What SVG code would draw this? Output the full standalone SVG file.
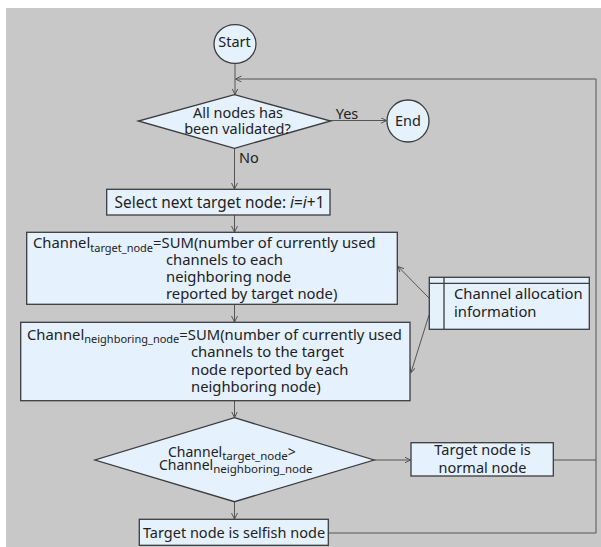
<svg xmlns="http://www.w3.org/2000/svg" width="601" height="547" viewBox="0 0 601 547">
<defs>
<marker id="arr" markerWidth="8" markerHeight="8" refX="6" refY="3" orient="auto" markerUnits="userSpaceOnUse">
<path d="M0,0 L6,3 L0,6" fill="none" stroke="#555" stroke-width="1"/>
</marker>
<style>
.node{fill:#e5f1fd;stroke:#3c3c3c;stroke-width:1.3}
.t{font-family:"Noto Sans","Open Sans",sans-serif;font-size:14.5px;fill:#222}
.b{font-size:14.8px}
.m{text-anchor:middle}
.sub{font-size:11px}
.c{fill:none;stroke:#555;stroke-width:1}
</style>
</defs>
<rect x="6" y="8" width="595" height="539" fill="#c8c8c8"/>
<g id="connectors">
<path class="c" d="M235,63.5 V94.5" marker-end="url(#arr)"/>
<path class="c" d="M328.5,533 H596 V79 H235.5" marker-end="url(#arr)"/>
<path class="c" d="M553.5,460 H596"/>
<path class="c" d="M330.5,120.5 H386.5" marker-end="url(#arr)"/>
<path class="c" d="M234.5,148.5 V189" marker-end="url(#arr)"/>
<path class="c" d="M234.5,215 V232" marker-end="url(#arr)"/>
<path class="c" d="M234.5,304.5 V322" marker-end="url(#arr)"/>
<path class="c" d="M234.5,400.5 V417.5" marker-end="url(#arr)"/>
<path class="c" d="M234.5,501.5 V519" marker-end="url(#arr)"/>
<path class="c" d="M374,460 H410.5" marker-end="url(#arr)"/>
<path class="c" d="M429,298 L398,266.5" marker-end="url(#arr)"/>
<path class="c" d="M429,315 L411,372.5" marker-end="url(#arr)"/>
</g>
<g id="start">
<ellipse class="node" cx="235" cy="44" rx="21" ry="19.3"/>
<text class="t m" x="234.5" y="46.5">Start</text>
</g>
<g id="decision1">
<polygon class="node" points="234.5,94.7 330.7,121 234.5,148.3 138.3,121"/>
<text class="t m"><tspan x="238" y="118">All nodes has</tspan><tspan x="237.5" y="134">been validated?</tspan></text>
</g>
<g id="labels">
<text class="t m" x="347" y="118.5">Yes</text>
<text class="t" x="239" y="162.5">No</text>
</g>
<g id="end">
<circle class="node" cx="408" cy="121" r="21"/>
<text class="t m" x="408" y="125.5">End</text>
</g>
<g id="select">
<rect class="node" x="106.7" y="189.3" width="223.3" height="25.7"/>
<text class="t m" x="219.5" y="207.5" style="font-size:15.4px">Select next target node: <tspan font-style="italic">i</tspan>=<tspan font-style="italic">i</tspan>+1</text>
</g>
<g id="target-sum">
<rect class="node" x="26.7" y="232.3" width="370.6" height="72"/>
<text class="t b"><tspan x="33" y="248">Channel</tspan><tspan class="sub" y="251.5">target_node</tspan><tspan y="248">=SUM(number of currently used</tspan><tspan x="166" y="265">channels to each</tspan><tspan x="166" y="282">neighboring node</tspan><tspan x="166" y="299">reported by target node)</tspan></text>
</g>
<g id="neighbor-sum">
<rect class="node" x="20.7" y="322.3" width="389.3" height="78.4"/>
<text class="t b"><tspan x="27" y="339.5">Channel</tspan><tspan class="sub" y="343">neighboring_node</tspan><tspan y="339.5">=SUM(number of currently used</tspan><tspan x="191" y="357">channels to the target</tspan><tspan x="191" y="374.5">node reported by each</tspan><tspan x="191" y="391.5">neighboring node)</tspan></text>
</g>
<g id="channel-info">
<rect class="node" x="429.3" y="277.3" width="160" height="52"/>
<path d="M429.3,283.3 H589.3 M444,277.3 V329.3" fill="none" stroke="#3c3c3c" stroke-width="1.3"/>
<text class="t" style="font-size:14.8px"><tspan x="454" y="299.3">Channel allocation</tspan><tspan x="454" y="316.7">information</tspan></text>
</g>
<g id="decision2">
<polygon class="node" points="234.5,417.7 374,460 234.5,501.7 95,460"/>
<text class="t" style="font-size:14px"><tspan x="168" y="456.5">Channel</tspan><tspan style="font-size:11.5px" y="459.5">target_node</tspan><tspan y="456.5">&gt;</tspan><tspan x="159" y="469.5">Channel</tspan><tspan style="font-size:11.5px" y="472.5">neighboring_node</tspan></text>
</g>
<g id="normal">
<rect class="node" x="411" y="442.7" width="142.3" height="33.3"/>
<text class="t m"><tspan x="482.5" y="455">Target node is</tspan><tspan x="482.5" y="472.5">normal node</tspan></text>
</g>
<g id="selfish">
<rect class="node" x="139.3" y="519.3" width="189" height="26"/>
<text class="t m" x="234" y="538">Target node is selfish node</text>
</g>
</svg>
